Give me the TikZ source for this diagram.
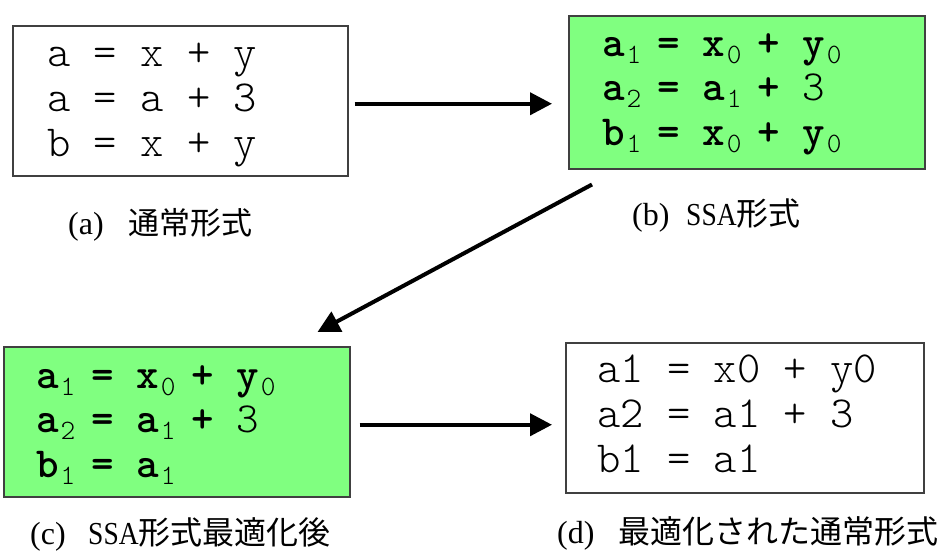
\documentclass[tikz,border=0pt]{standalone}
\usepackage{fontspec}
\setmainfont{Liberation Serif}
\newfontfamily\codefont{lmmonolt10-regular.otf}[BoldFont=lmmonolt10-bold.otf]
\newfontfamily\jpfont{Noto Sans CJK JP}
\usetikzlibrary{arrows.meta}
\definecolor{boxgreen}{HTML}{80FF80}
\definecolor{boxedge}{HTML}{404040}
% subscript index in SSA names: narrow advance, set below the baseline
\newcommand\ix[1]{\makebox[10pt][l]{\hspace{2pt}\raisebox{-7pt}{\mdseries\fontsize{28}{28}\selectfont #1}}}
% caption label with fixed width before the Japanese title
\newcommand\caplabel[2]{\makebox[#1][l]{#2}}
% narrow Latin run inside a caption
\newcommand\capword[1]{\scalebox{0.86}[1]{#1}}
\tikzset{
  codebox/.style={draw=boxedge, line width=1.5pt, inner sep=0pt, anchor=north west},
  ssabox/.style={codebox, fill=boxgreen},
  codeline/.style={anchor=base west, inner sep=0pt, font=\codefont\fontsize{44.4}{45}\selectfont},
  ssaline/.style={codeline, font=\codefont\bfseries\fontsize{42.9}{45}\selectfont},
  caption/.style={anchor=base west, inner sep=0pt, font=\fontsize{32}{36}\selectfont},
  flow/.style={line width=4pt, -{Triangle[length=22pt,width=22pt]}},
}
\begin{document}
\begin{tikzpicture}[x=1pt, y=-1pt]
\useasboundingbox (0,0) rectangle (937,552);
\fill[white] (0,0) rectangle (937,552);

% the four code boxes
\node[codebox, minimum width=335pt, minimum height=150pt] (A) at (12,25) {};
\node[ssabox, minimum width=356pt, minimum height=153pt] (B) at (568,15) {};
\node[ssabox, minimum width=346pt, minimum height=150pt] (C) at (3,346) {};
\node[codebox, minimum width=358pt, minimum height=150pt] (D) at (565,342) {};

% (a) ordinary form
\node[codeline] (a1) at (47,66) {a = x + y};
\node[codeline] (a2) at (47,111) {a = a + 3};
\node[codeline] (a3) at (47,156) {b = x + y};

% (b) SSA form
\node[ssaline] (b1) at (602,56) {a\ix{1} = x\ix{0} + y\ix{0}};
\node[ssaline] (b2) at (602,100) {a\ix{2} = a\ix{1} + {\mdseries 3}};
\node[ssaline] (b3) at (602,145) {b\ix{1} = x\ix{0} + y\ix{0}};

% (c) SSA form after optimisation
\node[ssaline] (c1) at (36,388) {a\ix{1} = x\ix{0} + y\ix{0}};
\node[ssaline] (c2) at (36,432) {a\ix{2} = a\ix{1} + {\mdseries 3}};
\node[ssaline] (c3) at (36,477) {b\ix{1} = a\ix{1}};

% (d) optimised ordinary form
\node[codeline] (d1) at (597,382) {a1 = x0 + y0};
\node[codeline] (d2) at (597,427) {a2 = a1 + 3};
\node[codeline] (d3) at (597,472) {b1 = a1};

% captions
\node[caption] (capA) at (68,234) {\caplabel{60pt}{(a)}{\jpfont\fontsize{31}{34}\selectfont 通常形式}};
\node[caption] (capB) at (632,225) {\caplabel{54pt}{(b)}\capword{SSA}{\jpfont\fontsize{32}{34}\selectfont 形式}};
\node[caption] (capC) at (30,544) {\caplabel{58pt}{(c)}\capword{SSA}{\jpfont\fontsize{32}{34}\selectfont 形式最適化後}};
\node[caption] (capD) at (557,543) {\caplabel{61pt}{(d)}{\jpfont\fontsize{32}{34}\selectfont 最適化された通常形式}};

% transformation arrows
\coordinate (ab) at ([shift={(6pt,-3pt)}]A.east);
\draw[flow, shorten >=16pt] (ab) -- (ab -| B.west);
\draw[flow] ([shift={(24pt,-15pt)}]B.south west) -- ([shift={(-33pt,14pt)}]C.north east);
\coordinate (cd) at ([shift={(9pt,-3pt)}]C.east);
\draw[flow, shorten >=13pt] (cd) -- (cd -| D.west);
\end{tikzpicture}
\end{document}
